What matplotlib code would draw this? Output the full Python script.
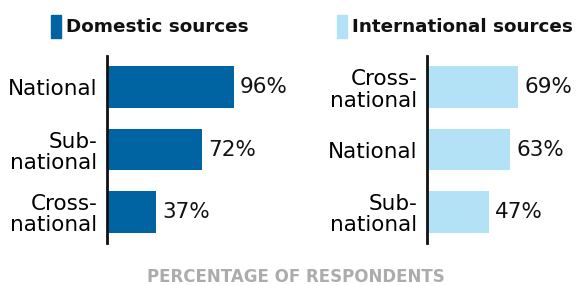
import matplotlib
matplotlib.use("Agg")
import matplotlib.pyplot as plt
from matplotlib.patches import Rectangle

dom_cats = ["National", "Sub-\nnational", "Cross-\nnational"]
dom_vals = [96, 72, 37]
int_cats = ["Cross-\nnational", "National", "Sub-\nnational"]
int_vals = [69, 63, 47]
titles = ["Domestic sources", "International sources"]
xlabel = "PERCENTAGE OF RESPONDENTS"

W, H = 578, 285
fig = plt.figure(figsize=(W / 100, H / 100), dpi=100)
plt.rcParams['font.family'] = ['DejaVu Sans']

dark = "#0064a2"
light = "#b3e2f6"
FS = 15.5

def make_ax(x0, cats, vals, color):
    ax = fig.add_axes([x0 / W, (H - 243) / H, 132.3 / W, 187 / H])
    ax.barh(range(len(vals)), vals, height=0.67, color=color)
    ax.set_xlim(0, 100)
    ax.set_ylim(2.5, -0.5)
    ax.set_yticks(range(len(cats)))
    ax.set_yticklabels(cats, fontsize=FS, linespacing=1.1)
    ax.tick_params(axis='y', length=0, pad=7)
    ax.set_xticks([])
    for s in ["top", "right", "bottom"]:
        ax.spines[s].set_visible(False)
    ax.spines["left"].set_linewidth(2)
    ax.spines["left"].set_color("#111111")
    for i, v in enumerate(vals):
        ax.text(v + 4.5, i, f"{v}%", va="center", ha="left", fontsize=FS, color="#111111")
    ax.patch.set_alpha(0)
    return ax

make_ax(107, dom_cats, dom_vals, dark)
make_ax(427, int_cats, int_vals, light)

# titles with colored markers
for (mx, tx, col, t) in [(51, 66, dark, titles[0]), (337, 352, light, titles[1])]:
    fig.patches.append(Rectangle((mx / W, (H - 38) / H), 10 / W, 23 / H,
                                 transform=fig.transFigure, color=col))
    fig.text(tx / W, (H - 27) / H, t, fontsize=13.2, fontweight="bold",
             va="center", ha="left", color="#111111")

fig.text(296 / W, (H - 277) / H, xlabel, fontsize=12, fontweight="bold",
         color="#acacac", ha="center", va="center")

fig.savefig("out.png", dpi=100)
